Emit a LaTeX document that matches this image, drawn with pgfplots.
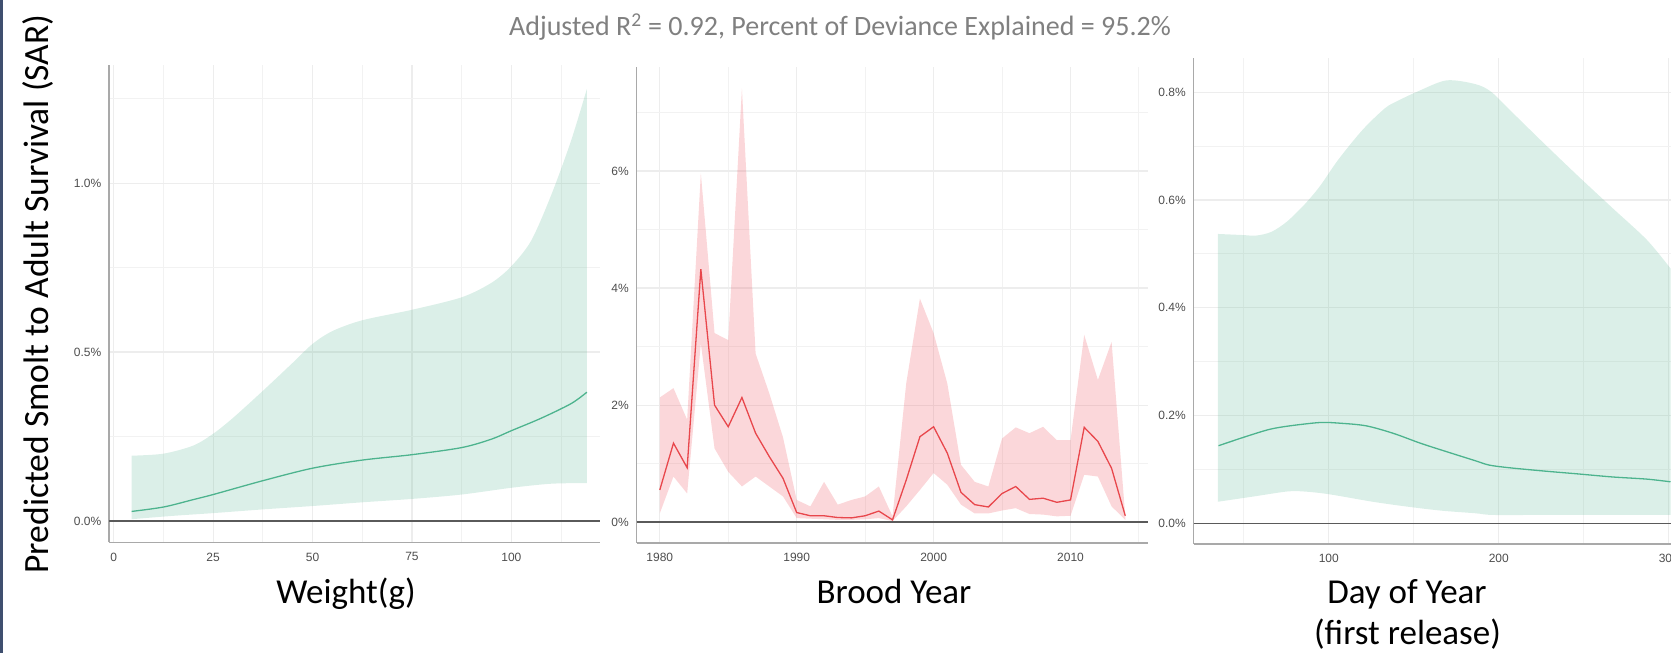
\documentclass[border=0pt]{standalone}
\usepackage{pgfplots}
\usepackage{pgfplotstable}
\pgfplotsset{compat=1.18}
\usepgfplotslibrary{fillbetween}
\usepackage{fontspec}
\setmainfont{Carlito}
\newfontfamily\tickfont{Liberation Sans}
\definecolor{gridmaj}{HTML}{EDEDED}
\definecolor{gridmin}{HTML}{F2F2F2}
\definecolor{axgray}{HTML}{A9A9A9}
\definecolor{zerogray}{HTML}{5A5A5A}
\definecolor{ticktext}{HTML}{4D4D4D}
\definecolor{titlegray}{HTML}{808080}
\definecolor{gband}{HTML}{5CB896}
\definecolor{gline}{HTML}{4DB38E}
\definecolor{rband}{HTML}{F0606A}
\definecolor{rline}{HTML}{E8474C}
\definecolor{slide}{HTML}{3F4F6F}

\pgfplotstableread{
year up lo fit
1980 2.13 0.15 0.55
1981 2.29 0.78 1.35
1982 1.75 0.49 0.93
1983 5.96 3.05 4.32
1984 3.23 1.26 2.00
1985 3.11 0.86 1.63
1986 7.41 0.61 2.13
1987 2.88 0.78 1.52
1988 2.20 0.61 1.12
1989 1.45 0.44 0.75
1990 0.38 0.07 0.165
1991 0.27 0.06 0.11
1992 0.69 0.05 0.11
1993 0.30 0.04 0.08
1994 0.38 0.04 0.074
1995 0.44 0.05 0.11
1996 0.61 0.07 0.19
1997 0.10 0.02 0.04
1998 2.37 0.27 0.72
1999 3.82 0.55 1.46
2000 3.23 0.84 1.63
2001 2.37 0.64 1.18
2002 0.98 0.30 0.51
2003 0.69 0.15 0.30
2004 0.61 0.15 0.26
2005 1.43 0.20 0.49
2006 1.62 0.24 0.61
2007 1.52 0.14 0.39
2008 1.63 0.13 0.41
2009 1.40 0.10 0.34
2010 1.40 0.11 0.38
2011 3.20 0.81 1.62
2012 2.43 0.78 1.38
2013 3.08 0.27 0.92
2014 0.10 0.04 0.11
}\brood

\pgfplotsset{
  panel/.style={
    scale only axis, anchor=south west,
    axis lines*=left,
    axis line style={draw=axgray, line width=1.8pt},
    major tick length=0pt, minor tick length=0pt,
    grid=both,
    major grid style={draw=gridmaj, line width=1.2pt},
    minor grid style={draw=gridmin, line width=1pt},
    tick label style={font=\tickfont\fontsize{12}{14}\selectfont, text=ticktext},
    yticklabel style={anchor=east, inner sep=0pt, xshift=-7.5pt},
    xticklabel style={anchor=north, inner sep=0pt, yshift=-10pt},
  },
}

\begin{document}
\begin{tikzpicture}
\fill[slide] (0pt,0pt) rectangle (2.5pt,653pt);

% Panel 1: Weight
\begin{axis}[panel, at={(109pt,110.5pt)}, width=491pt, height=477.9pt,
  xmin=-1.2, xmax=122.3, ymin=-0.064, ymax=1.351,
  xtick={0,25,50,75,100}, xticklabels={0,25,50,75,100},
  minor xtick={12.5,37.5,62.5,87.5,112.5},
  ytick={0,0.5,1}, yticklabels={0.0\%,0.5\%,1.0\%},
  minor ytick={0.25,0.75,1.25}]
\addplot[name path=u1, draw=none, smooth] coordinates {(4.5,0.193) (12.5,0.199) (20,0.223) (25,0.258) (30,0.305) (37.5,0.385) (45,0.468) (50,0.524) (55,0.562) (62.5,0.594) (75,0.625) (87.5,0.662) (95,0.705) (100,0.754) (105,0.83) (110,0.964) (115,1.125) (119,1.279)};
\addplot[name path=l1, draw=none, smooth] coordinates {(4.5,0.005) (15,0.015) (25,0.023) (37.5,0.034) (50,0.044) (62.5,0.055) (75,0.065) (87.5,0.078) (100,0.098) (110,0.11) (119,0.112)};
\addplot[gband, fill opacity=0.22, draw=none] fill between[of=u1 and l1];
\addplot[zerogray, line width=1.5pt] coordinates {(-1.2,0) (122.3,0)};
\addplot[gline, line width=1.3pt, smooth] coordinates {(4.5,0.028) (12.5,0.041) (20,0.063) (25,0.078) (37.5,0.119) (50,0.156) (62.5,0.180) (75,0.196) (87.5,0.217) (95,0.242) (100,0.267) (107.5,0.304) (115,0.347) (119,0.381)};
\end{axis}

% Panel 2: Brood year
\begin{axis}[panel, at={(636.5pt,110.3pt)}, width=511.5pt, height=476pt,
  xmin=1978.3, xmax=2015.66, ymin=-0.35, ymax=7.78,
  xtick={1980,1990,2000,2010}, xticklabels={1980,1990,2000,2010},
  minor xtick={1985,1995,2005,2015},
  ytick={0,2,4,6}, yticklabels={0\%,2\%,4\%,6\%},
  minor ytick={1,3,5,7}]
\addplot[name path=u2, draw=none] table[x=year,y=up]{\brood};
\addplot[name path=l2, draw=none] table[x=year,y=lo]{\brood};
\addplot[rband, fill opacity=0.25, draw=none] fill between[of=u2 and l2];
\addplot[zerogray, line width=1.5pt] coordinates {(1978.3,0) (2015.66,0)};
\addplot[rline, line width=1.3pt] table[x=year,y=fit]{\brood};
\end{axis}

% Panel 3: Day of year
\begin{axis}[panel, at={(1193.5pt,109pt)}, width=477.5pt, height=485.7pt,
  xmin=20.4, xmax=301.3, ymin=-0.0384, ymax=0.863,
  xtick={100,200,300}, xticklabels={100,200,300},
  minor xtick={50,150,250},
  ytick={0,0.2,0.4,0.6,0.8}, yticklabels={0.0\%,0.2\%,0.4\%,0.6\%,0.8\%},
  minor ytick={0.1,0.3,0.5,0.7}]
\addplot[name path=u3, draw=none, smooth] coordinates {(34.7,0.537) (49.2,0.535) (57.3,0.534) (66.3,0.541) (75.4,0.56) (85.5,0.591) (94.6,0.625) (105.6,0.675) (119.8,0.73) (132.9,0.77) (139.9,0.783) (152,0.801) (169.2,0.822) (186.3,0.815) (195.4,0.801) (206.5,0.767) (226.6,0.705) (246.8,0.644) (266.9,0.585) (287.1,0.526) (301,0.473)};
\addplot[name path=l3, draw=none, smooth] coordinates {(34.7,0.040) (55.2,0.0495) (75.4,0.059) (85.5,0.059) (100,0.054) (125.8,0.040) (146,0.031) (166.1,0.0235) (186.3,0.0186) (196.4,0.0155) (226.6,0.0155) (301,0.0155)};
\addplot[gband, fill opacity=0.22, draw=none] fill between[of=u3 and l3];
\addplot[zerogray, line width=1.5pt] coordinates {(20.4,0) (301.3,0)};
\addplot[gline, line width=1.3pt, smooth] coordinates {(35.1,0.144) (51.2,0.161) (65.3,0.1745) (77.4,0.181) (94.6,0.187) (105.6,0.186) (121.8,0.181) (137.9,0.167) (154,0.1485) (170.2,0.132) (186.3,0.116) (194.4,0.108) (206.5,0.103) (226.6,0.097) (246.8,0.0916) (266.9,0.086) (287.1,0.082) (301,0.077)};
\end{axis}

% Texts
\node[anchor=base, text=titlegray, font=\fontsize{28}{32}\selectfont] at (840pt,617pt)
  {Adjusted R\textsuperscript{2} = 0.92, Percent of Deviance Explained = 95.2\%};
\node[anchor=base, rotate=90, font=\fontsize{35.5}{40}\selectfont] at (49pt,359pt)
  {Predicted Smolt to Adult Survival (SAR)};
\node[anchor=base, font=\fontsize{35}{40}\selectfont] at (346pt,49pt) {Weight(g)};
\node[anchor=base, font=\fontsize{35}{40}\selectfont] at (894pt,49pt) {Brood Year};
\node[anchor=base, font=\fontsize{35}{40}\selectfont] at (1407pt,49pt) {Day of Year};
\node[anchor=base, font=\fontsize{35}{40}\selectfont] at (1407.5pt,8pt) {(first release)};

\pgfresetboundingbox
\useasboundingbox (0pt,0pt) rectangle (1671pt,653pt);
\end{tikzpicture}
\end{document}
